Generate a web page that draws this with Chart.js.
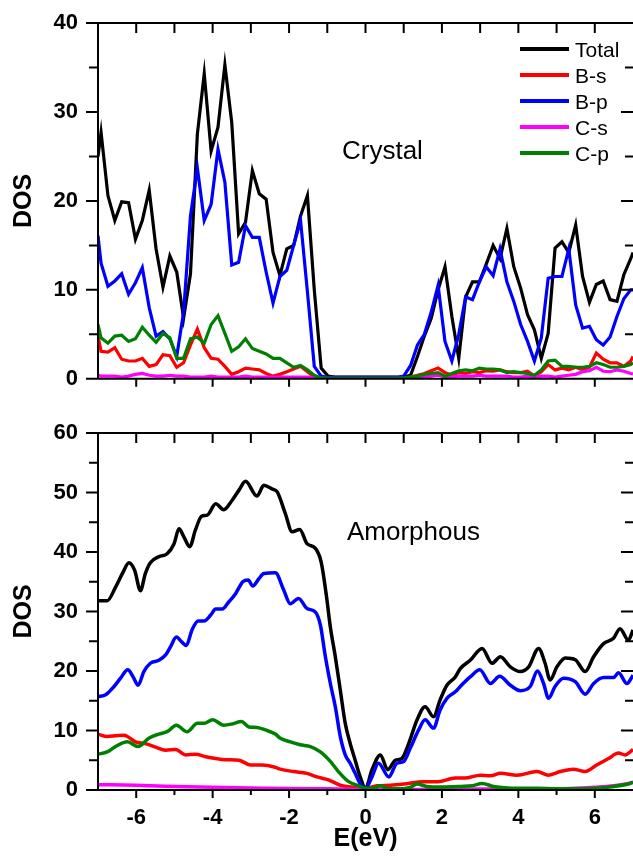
<!DOCTYPE html>
<html>
<head>
<meta charset="utf-8">
<title>DOS - crystal / amorphous</title>
<script src="https://cdn.jsdelivr.net/npm/chart.js@4.4.1/dist/chart.umd.min.js"></script>
<style>
  html, body { margin: 0; padding: 0; background: #fff; }
  #wrap { position: relative; width: 633px; height: 856px; overflow: hidden; }
  canvas { position: absolute; left: 0; }
  #crystal { top: 0; }
  #amorphous { top: 400px; }
</style>
</head>
<body>
<div id="wrap">
  <canvas id="crystal" width="633" height="400"></canvas>
  <canvas id="amorphous" width="633" height="456"></canvas>
</div>
<script>
const FONT = "'Liberation Sans', Arial, sans-serif";

const seriesNames = ['Total', 'B-s', 'B-p', 'C-s', 'C-p'];
const seriesColors = ['#000000', '#ff0000', '#0000ff', '#ff00ff', '#008000'];

const xTicks = [-6, -4, -2, 0, 2, 4, 6];
const xMinorTicks = [-5, -3, -1, 1, 3, 5];
const crystalYTicks = [0, 10, 20, 30, 40];
const crystalYMinor = [5, 15, 25, 35];
const amorphYTicks = [0, 10, 20, 30, 40, 50, 60];
const amorphYMinor = [5, 15, 25, 35, 45, 55];

// crystal: every projection is sampled on the same energy grid
const crystalE = [
  -7.00, -6.92, -6.74, -6.56, -6.38, -6.20, -6.02, -5.84, -5.66, -5.48,
  -5.30, -5.12, -4.94, -4.76, -4.58, -4.40, -4.22, -4.04, -3.86, -3.68,
  -3.50, -3.32, -3.14, -2.96, -2.78, -2.60, -2.42, -2.24, -2.06, -1.88,
  -1.70, -1.52, -1.34, -1.16, -0.98, -0.80, -0.62, -0.44, -0.26, -0.08,
  0.10, 0.28, 0.46, 0.64, 0.82, 1.00, 1.18, 1.36, 1.54, 1.72,
  1.90, 2.08, 2.26, 2.44, 2.62, 2.80, 2.98, 3.16, 3.34, 3.52,
  3.70, 3.88, 4.06, 4.24, 4.42, 4.60, 4.78, 4.96, 5.14, 5.32,
  5.50, 5.68, 5.86, 6.04, 6.22, 6.40, 6.58, 6.76, 6.94, 7.00
];
const crystalTotal = [
  25.0, 27.7, 20.6, 17.8, 19.9, 19.8, 15.7, 17.8, 21.2, 14.6,
  10.3, 13.8, 12.0, 6.8, 11.8, 27.5, 34.3, 25.6, 28.3, 35.3,
  28.8, 16.3, 17.6, 23.4, 20.8, 20.2, 14.2, 11.6, 14.6, 15.0,
  18.3, 20.6, 10.0, 1.2, 0.3, 0.2, 0.2, 0.2, 0.2, 0.2,
  0.2, 0.2, 0.2, 0.2, 0.2, 0.2, 0.4, 2.5, 4.8, 6.8,
  10.0, 12.6, 7.0, 2.3, 9.2, 10.9, 10.9, 12.9, 15.0, 13.5,
  16.9, 12.6, 10.2, 7.2, 5.5, 2.3, 5.1, 14.7, 15.4, 14.2,
  17.3, 11.5, 8.6, 10.6, 11.0, 8.9, 8.7, 11.7, 13.5, 14.2
];
const crystalBs = [
  4.8, 3.1, 3.0, 3.5, 2.2, 2.0, 2.0, 2.3, 1.4, 1.6,
  2.7, 2.6, 1.3, 1.8, 3.8, 5.6, 3.5, 2.3, 2.2, 1.4,
  0.5, 0.8, 1.2, 1.1, 1.0, 0.6, 0.3, 0.5, 0.8, 1.1,
  1.4, 0.8, 0.2, 0.05, 0.05, 0.05, 0.05, 0.05, 0.05, 0.05,
  0.05, 0.05, 0.05, 0.05, 0.05, 0.1, 0.2, 0.4, 0.6, 0.9,
  1.2, 0.7, 0.4, 0.7, 0.6, 0.8, 0.7, 0.9, 0.85, 1.0,
  0.8, 0.7, 0.7, 0.85, 0.3, 0.8, 1.6, 1.0, 1.2, 1.0,
  1.3, 1.0, 1.3, 2.9, 2.2, 1.8, 1.8, 1.4, 2.0, 2.5
];
const crystalBp = [
  16.1, 13.0, 10.4, 11.0, 11.8, 9.5, 10.8, 12.5, 8.0, 4.8,
  5.3, 4.5, 2.5, 7.5, 18.3, 23.7, 17.8, 19.6, 25.8, 22.1,
  12.8, 13.1, 17.2, 15.9, 15.9, 12.0, 8.5, 11.5, 12.2, 15.0,
  17.8, 9.8, 1.4, 0.3, 0.15, 0.15, 0.15, 0.15, 0.15, 0.15,
  0.15, 0.15, 0.15, 0.15, 0.15, 0.3, 1.5, 3.8, 5.0, 7.5,
  10.5, 4.2, 2.0, 5.0, 9.2, 8.9, 10.9, 12.6, 11.6, 14.6,
  10.9, 8.7, 6.1, 4.2, 2.0, 4.6, 11.3, 11.5, 11.5, 14.6,
  8.3, 5.7, 5.9, 4.4, 3.8, 4.7, 7.0, 9.0, 10.0, 10.0
];
const crystalCs = [
  0.4, 0.3, 0.3, 0.3, 0.2, 0.3, 0.5, 0.6, 0.4, 0.3,
  0.3, 0.4, 0.3, 0.3, 0.2, 0.2, 0.2, 0.3, 0.2, 0.2,
  0.2, 0.2, 0.3, 0.2, 0.2, 0.2, 0.2, 0.2, 0.2, 0.2,
  0.2, 0.2, 0.1, 0.05, 0.05, 0.05, 0.05, 0.05, 0.05, 0.05,
  0.05, 0.05, 0.05, 0.05, 0.05, 0.05, 0.1, 0.1, 0.2, 0.3,
  0.4, 0.2, 0.2, 0.3, 0.3, 0.3, 0.4, 0.3, 0.3, 0.3,
  0.3, 0.2, 0.2, 0.3, 0.2, 0.3, 0.3, 0.2, 0.3, 0.4,
  0.5, 0.8, 0.9, 1.3, 0.85, 0.8, 1.0, 0.85, 0.6, 0.55
];
const crystalCp = [
  6.1, 4.6, 4.0, 4.8, 4.9, 4.2, 4.5, 5.8, 4.9, 4.1,
  5.1, 4.6, 2.3, 2.3, 4.5, 4.7, 4.0, 6.1, 7.1, 5.1,
  3.1, 3.6, 4.5, 3.4, 3.1, 2.8, 2.3, 2.3, 1.8, 1.3,
  1.5, 1.0, 0.4, 0.1, 0.05, 0.05, 0.05, 0.05, 0.05, 0.05,
  0.05, 0.05, 0.05, 0.05, 0.05, 0.1, 0.2, 0.3, 0.5, 0.6,
  0.7, 0.3, 0.6, 0.9, 1.0, 0.9, 1.2, 1.1, 1.1, 1.0,
  0.7, 0.8, 0.7, 0.6, 0.4, 1.0, 2.0, 2.1, 1.4, 1.4,
  1.3, 1.3, 1.4, 1.8, 1.6, 1.3, 1.3, 1.4, 1.6, 1.8
];

// amorphous: smooth curves, each one read at its own points
const amTotalE = [-7.0, -6.76, -6.54, -6.36, -6.19, -6.04, -5.89, -5.76, -5.63, -5.41, -5.19, -5.01, -4.88, -4.75, -4.60,
  -4.45, -4.29, -4.14, -3.92, -3.71, -3.49, -3.31, -3.14, -2.84, -2.66, -2.45, -2.31, -2.10, -1.92, -1.72,
  -1.53, -1.31, -1.16, -1.02, -0.92, -0.79, -0.66, -0.53, -0.40, -0.27, -0.14, 0.0, 0.17, 0.39, 0.58,
  0.78, 0.95, 1.13, 1.35, 1.56, 1.78, 1.95, 2.13, 2.35, 2.48, 2.74, 3.05, 3.31, 3.53, 3.79,
  4.05, 4.27, 4.53, 4.70, 4.83, 5.01, 5.23, 5.49, 5.75, 5.97, 6.23, 6.49, 6.66, 6.88, 7.0];
const amTotal = [31.8, 31.8, 34.1, 36.4, 38.2, 36.9, 33.5, 36.4, 38.2, 39.2, 39.7, 41.4, 43.9, 42.5, 40.9,
  43.7, 46.0, 46.2, 48.1, 47.1, 48.7, 50.4, 51.9, 49.4, 51.2, 50.6, 50.1, 46.5, 43.4, 43.8,
  41.4, 40.6, 38.3, 32.5, 27.4, 22.4, 16.8, 11.2, 7.8, 5.0, 2.2, 0.3, 3.4, 5.9, 3.4,
  5.0, 5.3, 7.8, 11.8, 14.0, 12.3, 15.1, 17.6, 19.0, 20.4, 21.8, 23.8, 21.3, 22.4, 20.7,
  19.9, 20.7, 23.8, 21.3, 18.5, 20.7, 22.2, 21.9, 19.9, 22.4, 24.6, 25.5, 27.1, 25.2, 26.9];

const amBsE = [-7.0, -6.76, -6.54, -6.32, -6.02, -5.76, -5.49, -5.23, -4.97, -4.71, -4.45, -4.18, -3.92, -3.67, -3.31,
  -3.0, -2.70, -2.36, -2.23, -1.88, -1.53, -1.27, -0.97, -0.66, -0.31, 0.0, 0.3, 0.65, 1.0, 1.52,
  1.9, 2.35, 2.6, 3.0, 3.27, 3.53, 3.97, 4.49, 4.79, 5.1, 5.44, 5.75, 6.05, 6.36, 6.62, 6.79, 7.0];
const amBs = [9.4, 9.0, 9.1, 9.2, 8.1, 7.8, 7.2, 6.7, 6.8, 5.9, 6.0, 5.6, 5.3, 5.1, 5.0,
  4.2, 4.2, 3.8, 3.5, 3.1, 2.8, 2.2, 1.7, 0.8, 0.45, 0.3, 0.7, 0.8, 1.0, 1.4,
  1.4, 2.0, 2.0, 2.5, 2.4, 2.8, 2.5, 3.1, 2.5, 3.1, 3.5, 3.1, 4.2, 5.3, 6.2, 5.9, 6.8];

const amBpE = [-7.0, -6.8, -6.58, -6.41, -6.22, -6.08, -5.95, -5.80, -5.63, -5.41, -5.23, -5.10, -4.95, -4.81, -4.69,
  -4.54, -4.38, -4.23, -4.05, -3.92, -3.75, -3.58, -3.40, -3.21, -3.07, -2.95, -2.79, -2.66, -2.36, -2.14,
  -1.97, -1.75, -1.53, -1.31, -1.18, -1.05, -0.92, -0.79, -0.66, -0.53, -0.40, -0.27, -0.14, 0.0, 0.17,
  0.34, 0.61, 0.82, 1.0, 1.17, 1.39, 1.56, 1.78, 1.95, 2.13, 2.35, 2.48, 2.74, 2.99, 3.27,
  3.51, 3.79, 4.05, 4.31, 4.50, 4.66, 4.79, 4.96, 5.18, 5.49, 5.75, 5.97, 6.23, 6.49, 6.62, 6.84, 7.0];
const amBp = [15.7, 16.0, 17.4, 18.8, 20.2, 19.0, 17.6, 19.9, 21.3, 21.8, 22.7, 24.1, 25.7, 24.9, 24.3,
  26.9, 28.4, 28.4, 29.4, 30.4, 30.4, 31.6, 33.0, 35.0, 35.3, 34.3, 35.5, 36.4, 36.5, 33.6,
  31.3, 32.2, 30.5, 29.9, 27.7, 22.4, 17.9, 14.0, 9.0, 5.9, 4.5, 2.8, 1.1, 0.3, 2.2,
  4.5, 2.2, 4.5, 4.8, 7.0, 10.1, 11.8, 10.4, 13.4, 15.4, 16.5, 17.4, 19.0, 20.2, 17.9,
  19.1, 17.6, 16.7, 17.4, 20.0, 17.9, 15.4, 17.4, 18.8, 18.2, 16.1, 17.9, 18.9, 18.9, 19.7, 17.9, 19.3];

const amCsE = [-7.0, -6.0, -5.0, -4.0, -3.0, -2.0, -1.0, 0.0, 1.0, 2.0, 3.0, 4.0, 5.0, 5.5, 6.0, 6.5, 6.8, 7.0];
const amCs = [0.9, 0.8, 0.6, 0.45, 0.35, 0.25, 0.2, 0.1, 0.1, 0.1, 0.15, 0.15, 0.2, 0.3, 0.45, 0.7, 1.0, 1.3];

const amCpE = [-7.0, -6.76, -6.54, -6.23, -5.95, -5.67, -5.41, -5.19, -4.95, -4.67, -4.40, -4.22, -4.0, -3.71, -3.49,
  -3.25, -3.05, -2.84, -2.62, -2.36, -2.23, -1.97, -1.71, -1.44, -1.18, -0.92, -0.71, -0.44, -0.18, 0.0,
  0.2, 0.39, 0.6, 0.9, 1.15, 1.35, 1.6, 2.0, 2.5, 2.8, 3.05, 3.35, 4.0, 4.5, 5.0, 5.5, 6.0, 6.5, 6.92, 7.0];
const amCp = [6.0, 6.4, 7.3, 8.1, 7.3, 8.7, 9.4, 9.8, 10.9, 9.8, 11.2, 11.2, 11.8, 10.9, 11.1,
  11.5, 10.6, 10.5, 10.1, 9.4, 8.7, 8.1, 7.6, 7.3, 6.4, 4.8, 3.1, 1.4, 0.7, 0.3,
  0.3, 0.7, 0.2, 0.2, 0.4, 1.0, 0.6, 0.5, 0.6, 0.7, 1.1, 0.6, 0.3, 0.3, 0.2, 0.2, 0.3, 0.6, 1.1, 1.3];

function toPoints(es, vs) {
  if (es.length !== vs.length) throw new Error('length mismatch ' + es.length + ' vs ' + vs.length);
  return es.map((e, i) => ({ x: e, y: vs[i] }));
}

function makeDatasets(series, smooth) {
  return series.map((pts, i) => ({
    label: seriesNames[i],
    data: pts,
    borderColor: seriesColors[i],
    borderWidth: smooth ? 3.5 : 3.2,
    pointRadius: 0,
    fill: false,
    tension: 0,
    cubicInterpolationMode: smooth ? 'monotone' : 'default',
    order: series.length - i
  }));
}

function framePlugin(o) {
  return {
    id: 'dosFrame',
    afterDatasetsDraw(chart) {
      const { ctx, chartArea: a } = chart;
      const xs = chart.scales.x, ys = chart.scales.y;
      ctx.save();
      ctx.strokeStyle = '#000';
      ctx.lineWidth = 2;
      ctx.beginPath();
      ctx.moveTo(a.left - 1, a.top); ctx.lineTo(a.right, a.top);
      ctx.moveTo(a.left, a.top); ctx.lineTo(a.left, a.bottom + 1);
      ctx.moveTo(a.left - 1, a.bottom); ctx.lineTo(a.right, a.bottom);

      const vTick = (v, len, edge) => {
        const px = xs.getPixelForValue(v);
        ctx.moveTo(px, edge); ctx.lineTo(px, edge + len);
      };
      const hTick = (v, len, edge) => {
        const py = ys.getPixelForValue(v);
        ctx.moveTo(edge, py); ctx.lineTo(edge - len, py);
      };
      xTicks.forEach(v => { vTick(v, 8, a.bottom); vTick(v, 10, a.top); });
      xMinorTicks.forEach(v => { vTick(v, 5, a.bottom); vTick(v, 10, a.top); });
      o.yTicks.forEach(v => { hTick(v, 12, a.left); hTick(v, 12, a.right); });
      o.yMinor.forEach(v => { hTick(v, 9, a.left); hTick(v, 8, a.right); });
      ctx.stroke();

      ctx.fillStyle = '#000';
      ctx.textBaseline = 'alphabetic';
      ctx.textAlign = 'left';
      ctx.font = '26px ' + FONT;
      ctx.fillText(o.label, o.labelX, o.labelY);

      if (o.legend) {
        ctx.font = '21px ' + FONT;
        ctx.lineWidth = 4;
        seriesNames.forEach((name, i) => {
          const ly = 49 + i * 26;
          ctx.strokeStyle = seriesColors[i];
          ctx.beginPath();
          ctx.moveTo(520, ly); ctx.lineTo(569, ly);
          ctx.stroke();
          ctx.fillStyle = '#000';
          ctx.fillText(name, 575, ly + 7.5);
        });
      }
      ctx.restore();
    }
  };
}

function dosChart(id, datasets, o) {
  const tickFont = { family: FONT, size: 22, weight: 'bold' };
  return new Chart(document.getElementById(id), {
    type: 'line',
    data: { datasets },
    options: {
      responsive: false,
      devicePixelRatio: 1,
      animation: false,
      events: [],
      layout: { padding: { top: o.top, left: 0, right: 0, bottom: 0 } },
      plugins: { legend: { display: false }, tooltip: { enabled: false } },
      scales: {
        x: {
          type: 'linear',
          min: -7,
          max: 7,
          afterBuildTicks: s => { s.ticks = xTicks.map(v => ({ value: v })); },
          afterFit: s => { s.height = o.xHeight; },
          grid: { display: false, drawTicks: true, tickLength: 8 },
          border: { display: false },
          ticks: { display: o.xLabels, color: '#000', padding: 7, maxRotation: 0, autoSkip: false, font: tickFont },
          title: {
            display: o.xLabels,
            text: 'E(eV)',
            color: '#000',
            font: { family: FONT, size: 25, weight: 'bold' },
            padding: { top: 0, bottom: 2 }
          }
        },
        y: {
          type: 'linear',
          min: 0,
          max: o.yMax,
          afterBuildTicks: s => { s.ticks = o.yTicks.map(v => ({ value: v })); },
          afterFit: s => { s.width = 98; },
          grid: { display: false, drawTicks: true, tickLength: 12 },
          border: { display: false },
          ticks: { color: '#000', padding: 8, font: tickFont },
          title: {
            display: true,
            text: 'DOS',
            color: '#000',
            font: { family: FONT, size: 25, weight: 'bold' },
            padding: { top: 9, bottom: 0 }
          }
        }
      }
    },
    plugins: [framePlugin(o)]
  });
}

dosChart('crystal', makeDatasets([
  toPoints(crystalE, crystalTotal),
  toPoints(crystalE, crystalBs),
  toPoints(crystalE, crystalBp),
  toPoints(crystalE, crystalCs),
  toPoints(crystalE, crystalCp)
], false), {
  top: 23, xHeight: 19, xLabels: false, yMax: 40,
  yTicks: crystalYTicks, yMinor: crystalYMinor,
  label: 'Crystal', labelX: 342, labelY: 159, legend: true
});

dosChart('amorphous', makeDatasets([
  toPoints(amTotalE, amTotal),
  toPoints(amBsE, amBs),
  toPoints(amBpE, amBp),
  toPoints(amCsE, amCs),
  toPoints(amCpE, amCp)
], true), {
  top: 33, xHeight: 66, xLabels: true, yMax: 60,
  yTicks: amorphYTicks, yMinor: amorphYMinor,
  label: 'Amorphous', labelX: 347, labelY: 140, legend: false
});
</script>
</body>
</html>
